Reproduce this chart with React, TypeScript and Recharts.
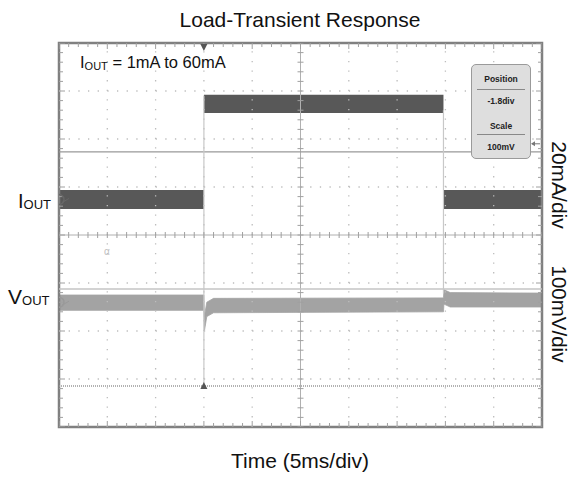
import React from "react";
import { ComposedChart, Area, Line, XAxis, YAxis, ReferenceLine, ReferenceArea } from "recharts";

// time in ms (5 ms/div), vertical values in screen divisions (0..8)
const ioutTime = [0, 15, 15, 39.8, 39.8, 50];
const ioutLow = [4.54, 4.54, 6.54, 6.54, 4.54, 4.54];
const ioutHigh = [4.94, 4.94, 6.92, 6.92, 4.94, 4.94];

const voutTime = [0, 15, 15.05, 15.3, 16, 39.8, 39.85, 40.5, 50];
const voutLow = [2.43, 2.43, 2.0, 2.3, 2.38, 2.4, 2.56, 2.5, 2.5];
const voutHigh = [2.75, 2.75, 2.3, 2.6, 2.68, 2.69, 2.86, 2.8, 2.79];

const xMajor = [5, 10, 15, 20, 30, 35, 40, 45];
const yMajor = [1, 2, 3, 5, 6, 7];
const xMinor = Array.from({ length: 51 }, (_, i) => i);
const yMinor = Array.from({ length: 41 }, (_, i) => +(i * 0.2).toFixed(1));

const triggerTime = 15;
const fallTime = 39.8;
const ioutCursor = 5.73;
const voutRef = 2.875;
const triggerLevel = 0.854;
const ioutMarker = 4.74;
const voutMarker = 2.6;
const cursorArrow = 5.9;

const ioutData = ioutTime.map((t, i) => ({ t, band: [ioutLow[i], ioutHigh[i]] }));
const voutData = voutTime.map((t, i) => ({ t, band: [voutLow[i], voutHigh[i]] }));
const centerH = xMinor.map((t) => ({ t, v: 4 }));
const centerV = yMinor.map((v) => ({ t: 25, v }));
const bottomTicks = xMinor.map((t) => ({ t, v: 0 }));
const topTicks = xMinor.map((t) => ({ t, v: 8 }));
const leftTicks = yMinor.map((v) => ({ t: 0, v }));
const rightTicks = yMinor.map((v) => ({ t: 50, v }));

const FRAME = "#808080";
const DOTS = "#bdbdbd";
const TICK = "#a0a0a0";

const vTick = (p: any) => (
    <line key={p.index} x1={p.cx} x2={p.cx} y1={p.cy - 3} y2={p.cy + 3} stroke={TICK} strokeWidth={1} />
);
const hTick = (p: any) => (
    <line key={p.index} x1={p.cx - 3} x2={p.cx + 3} y1={p.cy} y2={p.cy} stroke={TICK} strokeWidth={1} />
);
// border ticks point into the screen; every fifth one is a division mark
const edgeTick = (dx: number, dy: number) => (p: any) => {
    const len = p.index % 5 === 0 ? 6 : 4;
    return (
        <line key={p.index} x1={p.cx} y1={p.cy} x2={p.cx + dx * len} y2={p.cy + dy * len} stroke={TICK} strokeWidth={1} />
    );
};
const triDown = (p: any) => (
    <path key={p.index} d={`M${p.cx - 3.5},${p.cy + 1} L${p.cx + 3.5},${p.cy + 1} L${p.cx},${p.cy + 8} Z`} fill="#555" />
);
const triUp = (p: any) => (
    <path key={p.index} d={`M${p.cx - 3.5},${p.cy + 3} L${p.cx + 3.5},${p.cy + 3} L${p.cx},${p.cy - 4} Z`} fill="#555" />
);
const chMarker = (color: string) => (p: any) => (
    <g key={p.index}>
        <path d={`M${p.cx},${p.cy - 5} A5,5 0 0,1 ${p.cx},${p.cy + 5}`} fill="none" stroke={color} strokeWidth={1.5} />
        <path d={`M${p.cx + 3},${p.cy + 3} L${p.cx + 10},${p.cy - 1}`} stroke={color} strokeWidth={1} />
    </g>
);
const leftArrow = (p: any) => (
    <g key={p.index}>
        <line x1={p.cx - 10} x2={p.cx - 2} y1={p.cy} y2={p.cy} stroke="#777" strokeWidth={1} />
        <path d={`M${p.cx - 11},${p.cy} L${p.cx - 7},${p.cy - 2.5} L${p.cx - 7},${p.cy + 2.5} Z`} fill="#777" />
    </g>
);

const font = "'Liberation Sans', Arial, sans-serif";
const boxFont = "'Liberation Sans Narrow', 'Liberation Sans', Arial, sans-serif";

export default function App() {
    return (
        <div style={{ position: "absolute", left: 0, top: 0, width: 570, height: 479, background: "#fff", fontFamily: font, color: "#111" }}>
            <ComposedChart width={570} height={479} margin={{ top: 43, right: 28, bottom: 52, left: 59 }}>
                <XAxis dataKey="t" type="number" domain={[0, 50]} hide allowDataOverflow />
                <YAxis type="number" domain={[0, 8]} hide allowDataOverflow />

                {/* dotted division grid */}
                {xMajor.map((x) => (
                    <ReferenceLine key={`gx${x}`} x={x} stroke={DOTS} strokeWidth={1.3} strokeDasharray="1.3 8.3" />
                ))}
                {yMajor.map((y) => (
                    <ReferenceLine key={`gy${y}`} y={y} stroke={DOTS} strokeWidth={1.3} strokeDasharray="1.3 8.36" />
                ))}
                <ReferenceLine x={25} stroke="#b0b0b0" strokeWidth={1} />
                <ReferenceLine y={4} stroke="#b0b0b0" strokeWidth={1} />
                <Line data={centerH} dataKey="v" stroke="none" dot={vTick} isAnimationActive={false} />
                <Line data={centerV} dataKey="v" stroke="none" dot={hTick} isAnimationActive={false} />

                {/* cursors and trigger */}
                <ReferenceLine y={ioutCursor} stroke="#999" strokeWidth={1.3} />
                <ReferenceLine y={voutRef} stroke="#c4c4c4" strokeWidth={1.3} />
                <ReferenceLine y={triggerLevel} stroke="#999" strokeWidth={1.3} strokeDasharray="1 1" />
                <ReferenceLine segment={[{ x: triggerTime, y: triggerLevel }, { x: triggerTime, y: 6.9 }]} stroke="#c8c8c8" strokeWidth={1.2} />
                <ReferenceLine segment={[{ x: fallTime, y: 2.78 }, { x: fallTime, y: 6.6 }]} stroke="#c8c8c8" strokeWidth={1.2} />

                {/* traces */}
                <Area data={voutData} dataKey="band" type="linear" stroke="#a3a3a3" strokeWidth={0.8} fill="#a3a3a3" fillOpacity={1} isAnimationActive={false} />
                <Area data={ioutData} dataKey="band" type="linear" stroke="none" fill="#585858" fillOpacity={1} isAnimationActive={false} />

                {/* screen frame and its ticks */}
                <ReferenceArea x1={0} x2={50} y1={0} y2={8} fill="none" stroke={FRAME} strokeWidth={2.5} fillOpacity={0} />
                <Line data={bottomTicks} dataKey="v" stroke="none" dot={edgeTick(0, -1)} isAnimationActive={false} />
                <Line data={topTicks} dataKey="v" stroke="none" dot={edgeTick(0, 1)} isAnimationActive={false} />
                <Line data={leftTicks} dataKey="v" stroke="none" dot={edgeTick(1, 0)} isAnimationActive={false} />
                <Line data={rightTicks} dataKey="v" stroke="none" dot={edgeTick(-1, 0)} isAnimationActive={false} />

                {/* markers */}
                <Line data={[{ t: 0, v: ioutMarker }]} dataKey="v" stroke="none" dot={chMarker("#666")} isAnimationActive={false} />
                <Line data={[{ t: 0, v: voutMarker }]} dataKey="v" stroke="none" dot={chMarker("#999")} isAnimationActive={false} />
                <Line data={[{ t: triggerTime, v: 8 }]} dataKey="v" stroke="none" dot={triDown} isAnimationActive={false} />
                <Line data={[{ t: triggerTime, v: triggerLevel }]} dataKey="v" stroke="none" dot={triUp} isAnimationActive={false} />
                <Line data={[{ t: 50, v: cursorArrow }]} dataKey="v" stroke="none" dot={leftArrow} isAnimationActive={false} />
            </ComposedChart>

            <div style={{ position: "absolute", left: 100, top: 9, width: 400, textAlign: "center", fontSize: 21, lineHeight: "21px" }}>
                Load-Transient Response
            </div>
            <div style={{ position: "absolute", left: 80, top: 54, fontSize: 16.5, lineHeight: "16.5px", whiteSpace: "nowrap" }}>
                I<span style={{ fontSize: 11, verticalAlign: "-2px" }}>OUT</span> = 1mA to 60mA
            </div>
            <div style={{ position: "absolute", left: 18, top: 191, fontSize: 20, lineHeight: "20px", whiteSpace: "nowrap" }}>
                I<span style={{ fontSize: 13, verticalAlign: "-1px" }}>OUT</span>
            </div>
            <div style={{ position: "absolute", left: 8, top: 286, fontSize: 21, lineHeight: "21px", whiteSpace: "nowrap" }}>
                V<span style={{ fontSize: 13, verticalAlign: "-1px" }}>OUT</span>
            </div>
            <div style={{ position: "absolute", left: 499, top: 173, width: 120, height: 24, lineHeight: "24px", textAlign: "center", fontSize: 21, transform: "rotate(90deg)" }}>
                20mA/div
            </div>
            <div style={{ position: "absolute", left: 499, top: 302, width: 120, height: 24, lineHeight: "24px", textAlign: "center", fontSize: 20.5, transform: "rotate(90deg)" }}>
                100mV/div
            </div>
            <div style={{ position: "absolute", left: 100, top: 450, width: 400, textAlign: "center", fontSize: 21, lineHeight: "21px" }}>
                Time (5ms/div)
            </div>
            <div style={{ position: "absolute", left: 104, top: 247, fontSize: 10, lineHeight: "10px", color: "#c0c0c0" }}>α</div>

            {/* scope settings box */}
            <div style={{ position: "absolute", left: 471, top: 64, width: 60, height: 95, boxSizing: "border-box", border: "1px solid #9a9a9a", borderRadius: 5, background: "#dedede", fontFamily: boxFont, fontWeight: "bold", fontSize: 8.5, color: "#222", textAlign: "center" }}>
                <div style={{ position: "absolute", left: 0, top: 9, width: "100%", lineHeight: "10px" }}>Position</div>
                <div style={{ position: "absolute", left: 5, top: 24, width: 48, height: 1, background: "#888" }} />
                <div style={{ position: "absolute", left: 0, top: 31, width: "100%", lineHeight: "10px" }}>-1.8div</div>
                <div style={{ position: "absolute", left: 0, top: 56, width: "100%", lineHeight: "10px" }}>Scale</div>
                <div style={{ position: "absolute", left: 5, top: 69, width: 48, height: 1, background: "#888" }} />
                <div style={{ position: "absolute", left: 0, top: 77, width: "100%", lineHeight: "10px" }}>100mV</div>
            </div>
        </div>
    );
}
